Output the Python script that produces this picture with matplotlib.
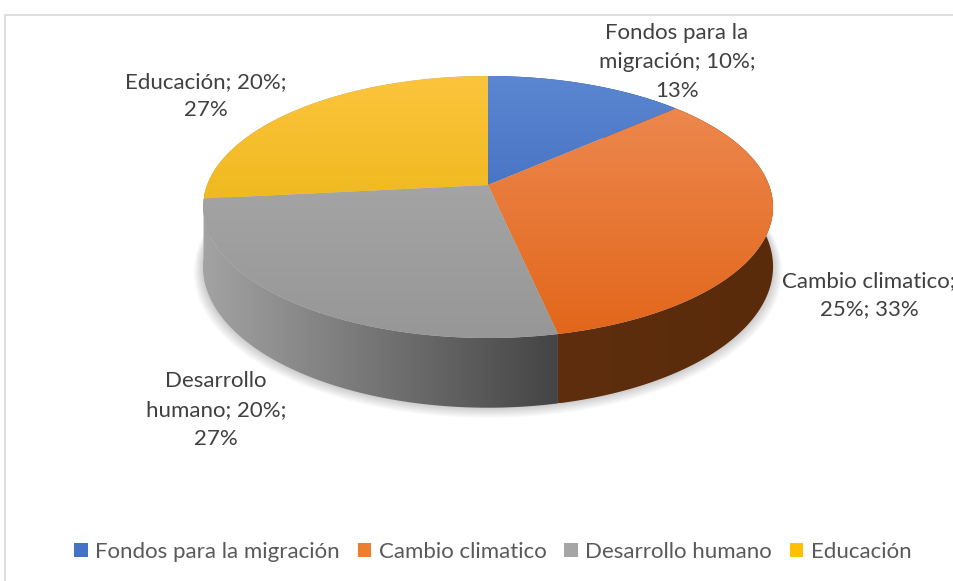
import textwrap
import numpy as np
import matplotlib.pyplot as plt
from matplotlib.patches import Polygon, Patch
from matplotlib.colors import LinearSegmentedColormap

# data
categories = ["Fondos para la migración", "Cambio climatico", "Desarrollo humano", "Educación"]
values = [10, 25, 20, 20]
colors = ["#4472C4", "#ED7D31", "#A5A5A5", "#FFC000"]
top_light = ["#5B86D0", "#EE8C55", "#ADADAD", "#FCC43C"]
top_dark = ["#2F5DB6", "#E2661A", "#979797", "#E2AD00"]
side_left = ["#2A4D8C", "#5E2E0E", "#A3A3A3", "#A3A3A3"]
side_right = ["#22406F", "#5A2B0B", "#444444", "#A0A0A0"]
wrap_width = [15, 17, 12, 15]

share = [round(v / sum(values) * 100) for v in values]
labels = [textwrap.fill(f"{c}; {v}%; {s}%", w)
          for c, v, s, w in zip(categories, values, share, wrap_width)]

# geometry of the 3d pie (pixels)
cx, cy, rx, ry, k, depth = 488, 185, 281, 127.3, 0.168, 58
label_pos = [(677, 62), (869, 295), (216, 410), (206, 96)]

plt.rcParams['font.family'] = ['Lato', 'DejaVu Sans']

fig = plt.figure(figsize=(9.54, 5.81), dpi=100)
ax = fig.add_axes([0, 0, 1, 1])
ax.axis('off')


def proj(a, drop=0.0):
    u = np.sin(a)
    v = np.cos(a)
    s = 1 / (1 + k * v)
    return np.column_stack([cx + rx * u * s, cy + (-ry * v + drop) * s])


def grad_fill(xy, c1, c2, horizontal, z, ext=None):
    patch = Polygon(xy, closed=True, facecolor='none', edgecolor='none')
    ax.add_patch(patch)
    x0, y0 = xy.min(0)
    x1, y1 = xy.max(0)
    if ext is not None:
        y0, y1 = ext
    cmap = LinearSegmentedColormap.from_list('g', [c1, c2])
    g = np.linspace(0, 1, 256)
    g = g[None, :] if horizontal else g[:, None]
    im = ax.imshow(g, cmap=cmap, extent=(x0, x1, y1, y0), aspect='auto',
                   zorder=z, interpolation='bilinear')
    im.set_clip_path(patch)


fracs = np.array(values) / sum(values)
bounds = np.concatenate([[0], np.cumsum(fracs)]) * 2 * np.pi

# shadow
ring = proj(np.linspace(0, 2 * np.pi, 200), depth)
for i in range(8, 0, -1):
    c = np.array([cx, cy + depth])
    sh = c + (ring - c) * (1 + i * 0.004) + [0, i * 0.6]
    ax.add_patch(Polygon(sh, closed=True, facecolor='#000000', alpha=0.025,
                         edgecolor='none', zorder=1))

# sides
for i in range(len(values)):
    a = np.linspace(bounds[i], bounds[i + 1], 120)
    side = np.vstack([proj(a), proj(a[::-1], depth)])
    grad_fill(side, side_left[i], side_right[i], True, 2)

# tops
for i in range(len(values)):
    a = np.linspace(bounds[i], bounds[i + 1], 120)
    top = np.vstack([[cx, cy], proj(a)])
    grad_fill(top, top_light[i], top_dark[i], False, 3, ext=(76, 338))

for lab, (x, y) in zip(labels, label_pos):
    ax.text(x, y, lab, ha='center', va='center', fontsize=16,
            color='#404040', linespacing=1.55, zorder=5)

# chart border
ax.plot([5, 5, 960], [600, 15, 15], color='#D9D9D9', lw=1.2, zorder=0)

handles = [Patch(facecolor=c, edgecolor='none') for c in colors]
ax.legend(handles, categories, loc='center', bbox_to_anchor=(493 / 954, 1 - 552 / 581),
          ncol=4, frameon=False, fontsize=16, handlelength=0.6, handleheight=0.6,
          handletextpad=0.35, columnspacing=0.8, labelcolor='#595959')

ax.set_xlim(0, 954)
ax.set_ylim(581, 0)

fig.savefig('out.png', dpi=100)
